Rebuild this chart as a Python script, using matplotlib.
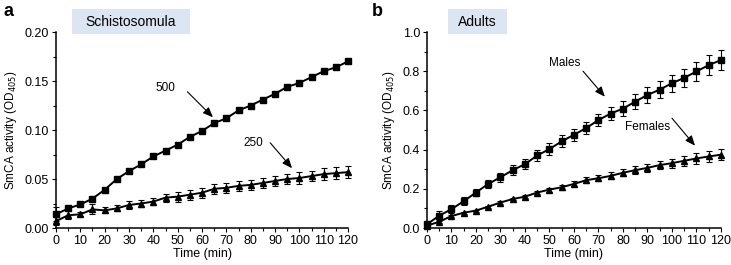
import matplotlib
matplotlib.use("Agg")
import matplotlib.pyplot as plt
from matplotlib.patches import Rectangle
from matplotlib.ticker import MultipleLocator

plt.rcParams['font.family'] = ['Liberation Sans', 'DejaVu Sans']

time = list(range(0, 125, 5))

s500 = [0.014, 0.020, 0.024, 0.030, 0.039, 0.050, 0.058, 0.065, 0.073, 0.079, 0.085,
        0.093, 0.099, 0.107, 0.112, 0.120, 0.125, 0.131, 0.137, 0.144, 0.148, 0.154,
        0.160, 0.164, 0.170]
e500 = [0.007, 0.001, 0.002, 0.002, 0.001, 0.002, 0.002, 0.002, 0.001, 0.002, 0.001,
        0.001, 0.001, 0.001, 0.001, 0.001, 0.001, 0.001, 0.001, 0.001, 0.001, 0.001,
        0.001, 0.001, 0.001]
s250 = [0.007, 0.013, 0.014, 0.019, 0.018, 0.020, 0.0235, 0.025, 0.027, 0.031, 0.032,
        0.034, 0.036, 0.040, 0.041, 0.043, 0.044, 0.046, 0.048, 0.050, 0.051, 0.053,
        0.055, 0.056, 0.057]
e250 = [0.004, 0.004, 0.002, 0.005, 0.003, 0.003, 0.004, 0.004, 0.004, 0.004, 0.005,
        0.005, 0.005, 0.005, 0.005, 0.005, 0.005, 0.005, 0.005, 0.005, 0.006, 0.005,
        0.006, 0.006, 0.006]

males = [0.019, 0.063, 0.096, 0.137, 0.181, 0.225, 0.259, 0.295, 0.326, 0.370, 0.403,
         0.442, 0.476, 0.510, 0.551, 0.584, 0.609, 0.645, 0.679, 0.706, 0.739, 0.766,
         0.799, 0.831, 0.857]
emales = [0.010, 0.025, 0.020, 0.020, 0.020, 0.020, 0.022, 0.025, 0.025, 0.028, 0.030,
          0.030, 0.030, 0.032, 0.033, 0.035, 0.037, 0.038, 0.040, 0.042, 0.043, 0.045,
          0.048, 0.050, 0.050]
females = [0.012, 0.032, 0.061, 0.078, 0.089, 0.109, 0.130, 0.148, 0.160, 0.181, 0.196,
           0.208, 0.225, 0.244, 0.254, 0.266, 0.282, 0.295, 0.307, 0.321, 0.331, 0.343,
           0.355, 0.365, 0.374]
efemales = [0.005, 0.008, 0.006, 0.005, 0.005, 0.005, 0.006, 0.006, 0.008, 0.008, 0.010,
            0.012, 0.013, 0.015, 0.016, 0.018, 0.019, 0.020, 0.021, 0.022, 0.023, 0.025,
            0.026, 0.027, 0.028]

fig = plt.figure(figsize=(7.31, 2.65), dpi=100)
axa = fig.add_axes([0.0766, 0.1396, 0.3995, 0.7396])
axb = fig.add_axes([0.5841, 0.1396, 0.4022, 0.7396])

fs = 9
fsa = 8.5

def style(ax, ymax, ymaj, ymin):
    ax.set_xlim(0, 120)
    ax.set_ylim(0, ymax)
    for s in ['top', 'right']:
        ax.spines[s].set_visible(False)
    ax.spines['left'].set_linewidth(1.1)
    ax.spines['bottom'].set_linewidth(1.1)
    ax.xaxis.set_major_locator(MultipleLocator(10))
    ax.xaxis.set_minor_locator(MultipleLocator(5))
    ax.yaxis.set_major_locator(MultipleLocator(ymaj))
    ax.yaxis.set_minor_locator(MultipleLocator(ymin))
    ax.tick_params(which='both', direction='out', labelsize=fs, width=0.8, pad=2)
    ax.tick_params(which='major', length=3)
    ax.tick_params(which='minor', length=2)
    ax.set_xlabel('Time (min)', fontsize=fs, labelpad=1)
    ax.set_ylabel('SmCA activity (OD$_{405}$)', fontsize=fsa, labelpad=4)

def series(ax, y, e, marker, ms):
    ax.errorbar(time, y, yerr=e, color='black', marker=marker, ms=ms, lw=1.4,
                elinewidth=0.8, capsize=2.2, capthick=0.8, clip_on=False, zorder=3)

style(axa, 0.20, 0.05, 0.025)
axa.yaxis.set_major_formatter(matplotlib.ticker.FormatStrFormatter('%.2f'))
series(axa, s500, e500, 's', 4.5)
series(axa, s250, e250, '^', 4)

style(axb, 1.0, 0.2, 0.1)
axb.yaxis.set_major_formatter(matplotlib.ticker.FormatStrFormatter('%.1f'))
series(axb, males, emales, 's', 5)
series(axb, females, efemales, '^', 4.5)

arrow = dict(arrowstyle='-|>,head_length=0.6,head_width=0.25', color='black', lw=0.8,
             shrinkA=0, shrinkB=0)
axa.annotate('', xy=(64.5, 0.113), xytext=(54, 0.139), arrowprops=arrow)
axa.text(45, 0.143, '500', fontsize=fsa, ha='center', va='center')
axa.annotate('', xy=(97, 0.061), xytext=(88, 0.087), arrowprops=arrow)
axa.text(81, 0.087, '250', fontsize=fsa, ha='center', va='center')

axb.annotate('', xy=(72.6, 0.67), xytext=(63.7, 0.80), arrowprops=arrow)
axb.text(56.3, 0.84, 'Males', fontsize=fsa, ha='center', va='center')
axb.annotate('', xy=(109.4, 0.42), xytext=(100, 0.56), arrowprops=arrow)
axb.text(90, 0.515, 'Females', fontsize=fsa, ha='center', va='center')

# title boxes
W, H = 731, 265
def box(x0, x1, y0, y1, label):
    fig.patches.append(Rectangle((x0 / W, 1 - y1 / H), (x1 - x0) / W, (y1 - y0) / H,
                                 transform=fig.transFigure, facecolor='#dce6f2',
                                 edgecolor='none', zorder=0))
    fig.text((x0 + x1) / 2 / W, 1 - (y0 + y1) / 2 / H, label, fontsize=10,
             ha='center', va='center')

box(72, 190, 9, 34, 'Schistosomula')
box(448, 507, 9, 34, 'Adults')

fig.text(3 / W, 1 - 11 / H, 'a', fontsize=13, fontweight='bold', ha='left', va='center')
fig.text(372 / W, 1 - 11 / H, 'b', fontsize=13, fontweight='bold', ha='left', va='center')

fig.savefig('out.png', dpi=100)
